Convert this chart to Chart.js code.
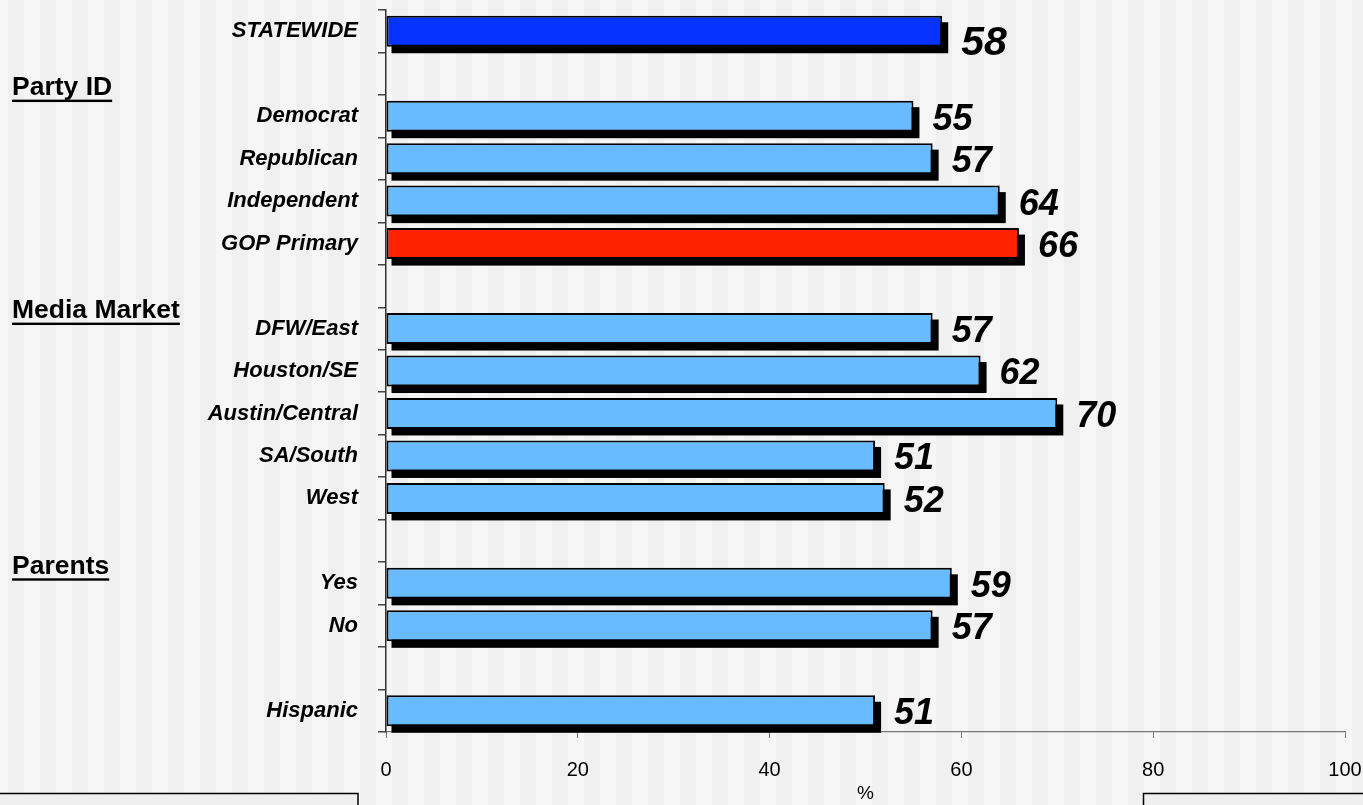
<!DOCTYPE html>
<html>
<head>
<meta charset="utf-8">
<script src="https://cdn.jsdelivr.net/npm/chart.js@4.4.1/dist/chart.umd.min.js"></script>
<style>
  html, body { margin: 0; padding: 0; background: #f4f4f4; }
  #wrap { width: 1363px; height: 805px; position: relative; }
</style>
</head>
<body>
<div id="wrap"><canvas id="c"></canvas></div>
<script>
// ---- data ----
const categories = ['STATEWIDE', '', 'Democrat', 'Republican', 'Independent', 'GOP Primary', '',
  'DFW/East', 'Houston/SE', 'Austin/Central', 'SA/South', 'West', '', 'Yes', 'No', '', 'Hispanic'];
const values = [58, null, 55, 57, 64, 66, null, 57, 62, 70, 51, 52, null, 59, 57, null, 51];
const groupHeaders = ['Party ID', 'Media Market', 'Parents'];
const groupHeaderRows = [1, 6, 12];
const xTicks = [0, 20, 40, 60, 80, 100];
const axisTitle = '%';

const FONT = '"Liberation Sans", Arial, Helvetica, sans-serif';
const barColors = categories.map(c => c === 'STATEWIDE' ? '#0633ff' : (c === 'GOP Primary' ? '#ff2200' : '#69bbff'));

const decor = {
  id: 'decor',
  beforeDraw(chart) {
    const ctx = chart.ctx, W = chart.width, H = chart.height;
    ctx.save();
    ctx.fillStyle = '#f6f6f6';
    ctx.fillRect(0, 0, W, H);
    ctx.fillStyle = '#f0f0f0';
    for (let x = 8; x < W; x += 32) ctx.fillRect(x, 0, 16, H);
    ctx.restore();
  },
  beforeDatasetsDraw(chart) {
    const ctx = chart.ctx;
    const meta = chart.getDatasetMeta(0);
    ctx.save();
    ctx.fillStyle = '#000';
    meta.data.forEach((el, i) => {
      if (values[i] == null) return;
      const left = Math.min(el.base, el.x), w = Math.abs(el.x - el.base);
      ctx.fillRect(left + 5, el.y - el.height / 2 + 6.5, w + 1, el.height);
    });
    ctx.restore();
  },
  afterDatasetsDraw(chart) {
    const ctx = chart.ctx;
    const meta = chart.getDatasetMeta(0);
    ctx.save();
    ctx.fillStyle = '#000';
    ctx.textAlign = 'left';
    ctx.textBaseline = 'middle';
    meta.data.forEach((el, i) => {
      if (values[i] == null) return;
      const big = categories[i] === 'STATEWIDE';
      ctx.font = 'italic bold ' + (big ? 41 : 36) + 'px ' + FONT;
      ctx.fillText(String(values[i]), el.x + 19, el.y + (big ? 12 : 3.5));
    });
    // group headers
    const ys = chart.scales.y;
    const rowH = ys.getPixelForValue(1) - ys.getPixelForValue(0);
    const offs = [0.34, 0.59, 0.61];
    ctx.font = 'bold 26.5px ' + FONT;
    ctx.textBaseline = 'middle';
    groupHeaders.forEach((h, k) => {
      const y = ys.getPixelForValue(groupHeaderRows[k]) + offs[k] * rowH;
      ctx.fillText(h, 12, y);
      const w = ctx.measureText(h).width;
      ctx.fillRect(12, y + 11.5, w, 2.4);
    });
    ctx.restore();
  },
  afterDraw(chart) {
    const ctx = chart.ctx;
    ctx.save();
    ctx.fillStyle = '#efefef';
    ctx.strokeStyle = '#000';
    ctx.lineWidth = 1.5;
    ctx.fillRect(-2, 793.5, 360, 20);
    ctx.strokeRect(-2, 793.5, 360, 20);
    ctx.fillRect(1143.5, 793.5, 240, 20);
    ctx.strokeRect(1143.5, 793.5, 240, 20);
    ctx.restore();
  }
};

new Chart(document.getElementById('c'), {
  type: 'bar',
  data: {
    labels: categories,
    datasets: [{
      data: values,
      backgroundColor: barColors,
      borderColor: '#000',
      borderWidth: 2,
      borderSkipped: false,
      barPercentage: 0.73,
      categoryPercentage: 1.0
    }]
  },
  options: {
    indexAxis: 'y',
    responsive: true,
    maintainAspectRatio: false,
    animation: false,
    devicePixelRatio: 1,
    layout: { padding: { top: 10, right: 18, bottom: 0, left: 0 } },
    plugins: { legend: { display: false }, tooltip: { enabled: false } },
    scales: {
      x: {
        min: 0, max: 100,
        afterFit(s) { s.height = 73; s.paddingLeft = 0; s.paddingRight = 0; },
        afterBuildTicks(s) { s.ticks = xTicks.map(v => ({ value: v })); },
        grid: { display: true, drawOnChartArea: false, drawTicks: true, tickLength: 6, color: '#777', lineWidth: 1 },
        border: { display: true, color: '#777', width: 1.2 },
        ticks: { color: '#000', font: { family: FONT, size: 20 }, padding: 20, maxRotation: 0 },
        title: { display: true, text: axisTitle, color: '#000', font: { family: FONT, size: 19 }, padding: { top: 0, bottom: 0 } }
      },
      y: {
        afterFit(s) { s.width = 386; s.paddingTop = 0; s.paddingBottom = 0; },
        grid: { display: true, offset: true, drawOnChartArea: false, drawTicks: true, tickLength: 8, color: '#444', lineWidth: 1.5 },
        border: { display: true, color: '#333', width: 1.5 },
        ticks: { color: '#000', font: { family: FONT, size: 22, style: 'italic', weight: 'bold' }, padding: 20, autoSkip: false }
      }
    }
  },
  plugins: [decor]
});
</script>
</body>
</html>
